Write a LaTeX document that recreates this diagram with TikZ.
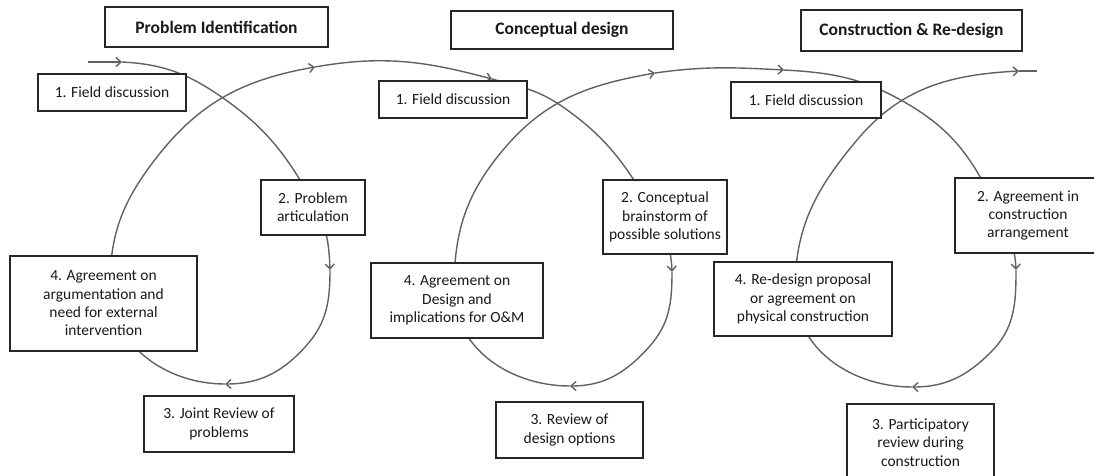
\documentclass[tikz,border=0pt]{standalone}
\usepackage{fontspec}
\setmainfont{Carlito}
\usetikzlibrary{arrows.meta}

\begin{document}
\begin{tikzpicture}[x=1pt, y=-1pt,
    box/.style={rectangle, draw=black!85, line width=1.2pt, fill=white, align=center, text=black!90, font=\fontsize{15.5}{18.3}\selectfont, inner sep=2pt},
    stage/.style={box, font=\fontsize{17.5}{21}\selectfont\bfseries, minimum height=40pt},
    spiral/.style={draw=black!62, line width=1.4pt},
    arrow/.style={spiral, -{Straight Barb[length=5pt,width=9pt]}}
]
\useasboundingbox (0,0) rectangle (1094,476);

% Spiral: loop 1
\coordinate (s0) at (88,62);
\coordinate (a1) at (122,62);
\coordinate (c1) at (223,98);
\coordinate (d1) at (312,200);
\coordinate (a2) at (330,270);
\coordinate (e1) at (306,346);
\coordinate (a3) at (225,384);
\coordinate (f1) at (110,285);
\coordinate (g1) at (157,157);
\coordinate (a4) at (315,67);

% Spiral: loop 2
\coordinate (a5) at (492,79);
\coordinate (c2) at (563,107);
\coordinate (d2) at (652,210);
\coordinate (a6) at (672,272);
\coordinate (e2) at (649,347);
\coordinate (a7) at (570,386);
\coordinate (f2) at (454,290);
\coordinate (g2) at (503,150);
\coordinate (a8) at (655,73);

% Spiral: loop 3
\coordinate (a9) at (784,70);
\coordinate (c3) at (906,103);
\coordinate (d3) at (997,210);
\coordinate (a10) at (1016,270);
\coordinate (e3) at (991,352);
\coordinate (a11) at (912,387);
\coordinate (f3) at (795,290);
\coordinate (g3) at (857,140);
\coordinate (a12) at (1019,71);
\coordinate (s1) at (1037,71);

% Spiral path
\draw[arrow] (s0) -- (a1);
\draw[arrow] (a1) to[out=-3,in=145] (c1) to[out=-35,in=120] (d1) to[out=-60,in=92] (a2);
\draw[arrow] (a2) to[out=-90,in=48] (e1) to[out=-132,in=0] (a3);
\draw[arrow] (a3) to[out=180,in=-90] (f1) to[out=90,in=232] (g1) to[out=52,in=190] (a4);
\draw[arrow] (a4) to[out=10,in=165] (a5);
\draw[arrow] (a5) to[out=-15,in=145] (c2) to[out=-35,in=120] (d2) to[out=-60,in=92] (a6);
\draw[arrow] (a6) to[out=-90,in=48] (e2) to[out=-132,in=0] (a7);
\draw[arrow] (a7) to[out=180,in=-90] (f2) to[out=90,in=230] (g2) to[out=50,in=190] (a8);
\draw[arrow] (a8) to[out=8,in=177] (a9);
\draw[arrow] (a9) to[out=-3,in=150] (c3) to[out=-30,in=115] (d3) to[out=-65,in=92] (a10);
\draw[arrow] (a10) to[out=-90,in=45] (e3) to[out=-135,in=0] (a11);
\draw[arrow] (a11) to[out=180,in=-90] (f3) to[out=90,in=230] (g3) to[out=50,in=183] (a12);
\draw[spiral] (a12) -- (s1);

% Stage titles
\node[stage, minimum width=223pt] (pi) at (216.5,27) {Problem Identification};
\node[stage, minimum width=222pt, minimum height=38pt] (cd) at (562,30) {Conceptual design};
\node[stage, minimum width=221pt, minimum height=41pt] (cr) at (911.5,30.5) {Construction \& Re-design};

% Loop 1
\node[box, minimum width=148pt, minimum height=37pt] (fd1) at (112,92.5) {1. Field discussion};
\node[box, minimum width=104pt, minimum height=55pt] (pa) at (313,207.5) {2. Problem\\articulation};
\node[box, minimum width=150pt, minimum height=56pt] (jr) at (219,424) {3. Joint Review of\\problems};
\node[box, minimum width=187pt, minimum height=95pt] (ag1) at (103.5,303.5) {4. Agreement on\\argumentation and\\need for external\\intervention};

% Loop 2
\node[box, minimum width=148pt, minimum height=37pt] (fd2) at (453,99.5) {1. Field discussion};
\node[box, minimum width=124pt, minimum height=74pt] (cb) at (665,217) {2. Conceptual\\brainstorm of\\possible solutions};
\node[box, minimum width=147pt, minimum height=56pt] (rd) at (569.5,430) {3. Review of\\design options};
\node[box, minimum width=172pt, minimum height=75pt] (ag2) at (457,300.5) {4. Agreement on\\Design and\\implications for O\&M};

% Loop 3
\node[box, minimum width=150pt, minimum height=36pt] (fd3) at (806,100) {1. Field discussion};
\node[box, minimum width=146pt, minimum height=75pt] (ac) at (1028,215.5) {2. Agreement in\\construction\\arrangement};
\node[box, minimum width=147pt, minimum height=77pt] (pr) at (920.5,442.5) {3. Participatory\\review during\\construction};
\node[box, minimum width=178pt, minimum height=74pt] (rp) at (803,299) {4. Re-design proposal\\or agreement on\\physical construction};

\end{tikzpicture}
\end{document}
